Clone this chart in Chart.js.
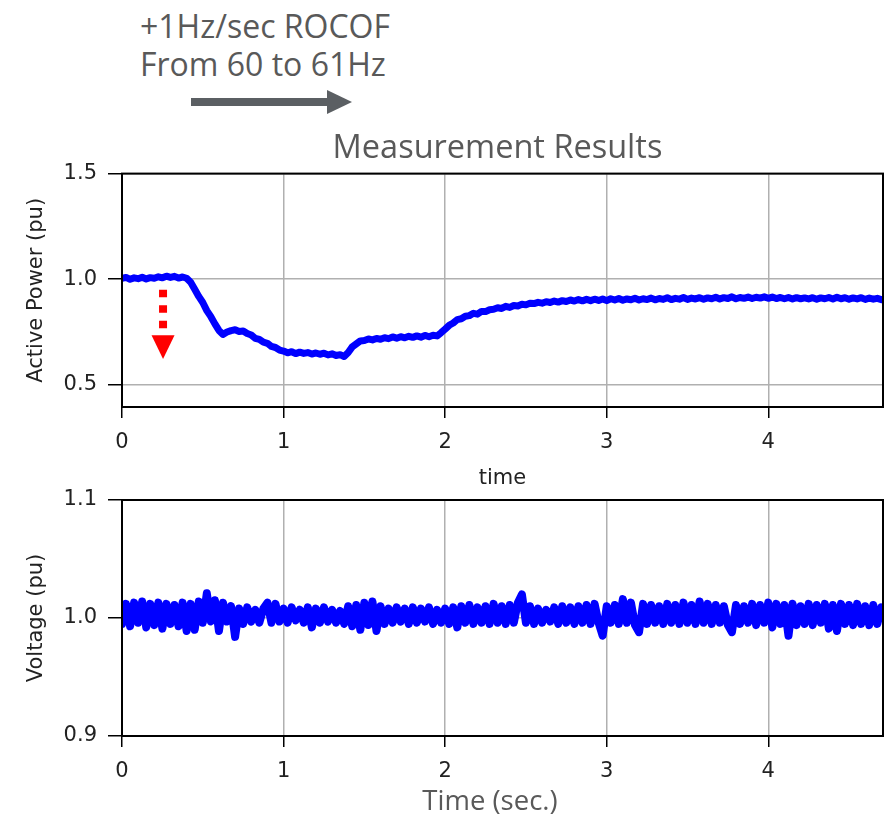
<!DOCTYPE html>
<html>
<head>
<meta charset="utf-8">
<title>Measurement Results</title>
<script src="https://cdn.jsdelivr.net/npm/chart.js@4.4.1/dist/chart.umd.min.js"></script>
<style>
    html, body { margin: 0; padding: 0; background: #fff; }
    #page { position: relative; width: 890px; height: 820px; overflow: hidden; font-family: "Open Sans", sans-serif; color: #595959; }
    .chart-box { position: absolute; left: 0; width: 890px; }
    #powerBox { top: 150px; height: 340px; }
    #voltageBox { top: 470px; height: 350px; }
    #header { position: absolute; left: 140px; top: 7px; font-size: 32px; line-height: 38px; white-space: nowrap; }
    #plotTitle { position: absolute; left: 497.5px; top: 130px; font-size: 32.5px; line-height: 1; transform: translateX(-50%); white-space: nowrap; }
    #timeTitle { position: absolute; left: 490px; top: 786px; font-size: 27.5px; line-height: 1; transform: translateX(-50%); white-space: nowrap; }
    #shaft { position: absolute; left: 191px; top: 98px; width: 137px; height: 8px; background: #5b5f63; }
    #head { position: absolute; left: 327px; top: 90px; width: 0; height: 0; border-top: 12px solid transparent; border-bottom: 12px solid transparent; border-left: 25px solid #5b5f63; }
</style>
</head>
<body>
<div id="page">
    <div class="chart-box" id="powerBox"><canvas id="powerChart"></canvas></div>
    <div class="chart-box" id="voltageBox"><canvas id="voltageChart"></canvas></div>
    <div id="header">+1Hz/sec ROCOF<br>From 60 to 61Hz</div>
    <div id="shaft"></div>
    <div id="head"></div>
    <div id="plotTitle">Measurement Results</div>
    <div id="timeTitle">Time (sec.)</div>
</div>
<script>
// Sample times (sec.)
const time = [
    0, 0.025, 0.05, 0.075, 0.1, 0.125, 0.15, 0.175, 0.2, 0.225, 0.25, 0.275, 0.3, 0.325, 0.35, 0.375, 0.4, 0.425, 0.45, 0.475,
    0.5, 0.525, 0.55, 0.575, 0.6, 0.625, 0.65, 0.675, 0.7, 0.725, 0.75, 0.775, 0.8, 0.825, 0.85, 0.875, 0.9, 0.925, 0.95, 0.975,
    1, 1.025, 1.05, 1.075, 1.1, 1.125, 1.15, 1.175, 1.2, 1.225, 1.25, 1.275, 1.3, 1.325, 1.35, 1.375, 1.4, 1.425, 1.45, 1.475,
    1.5, 1.525, 1.55, 1.575, 1.6, 1.625, 1.65, 1.675, 1.7, 1.725, 1.75, 1.775, 1.8, 1.825, 1.85, 1.875, 1.9, 1.925, 1.95, 1.975,
    2, 2.025, 2.05, 2.075, 2.1, 2.125, 2.15, 2.175, 2.2, 2.225, 2.25, 2.275, 2.3, 2.325, 2.35, 2.375, 2.4, 2.425, 2.45, 2.475,
    2.5, 2.525, 2.55, 2.575, 2.6, 2.625, 2.65, 2.675, 2.7, 2.725, 2.75, 2.775, 2.8, 2.825, 2.85, 2.875, 2.9, 2.925, 2.95, 2.975,
    3, 3.025, 3.05, 3.075, 3.1, 3.125, 3.15, 3.175, 3.2, 3.225, 3.25, 3.275, 3.3, 3.325, 3.35, 3.375, 3.4, 3.425, 3.45, 3.475,
    3.5, 3.525, 3.55, 3.575, 3.6, 3.625, 3.65, 3.675, 3.7, 3.725, 3.75, 3.775, 3.8, 3.825, 3.85, 3.875, 3.9, 3.925, 3.95, 3.975,
    4, 4.025, 4.05, 4.075, 4.1, 4.125, 4.15, 4.175, 4.2, 4.225, 4.25, 4.275, 4.3, 4.325, 4.35, 4.375, 4.4, 4.425, 4.45, 4.475,
    4.5, 4.525, 4.55, 4.575, 4.6, 4.625, 4.65, 4.675, 4.7
];

// Active power (pu)
const activePower = [
    1.003, 1.008, 0.999, 1.006, 1.002, 1.009, 1.001, 1.007, 1.004, 1.011, 1.006, 1.014, 1.008, 1.013, 1.005, 1.010, 1.004, 0.985, 0.952, 0.918,
    0.889, 0.851, 0.822, 0.788, 0.757, 0.738, 0.749, 0.756, 0.760, 0.752, 0.754, 0.742, 0.735, 0.719, 0.714, 0.701, 0.696, 0.681, 0.676, 0.664,
    0.659, 0.651, 0.656, 0.647, 0.654, 0.648, 0.652, 0.645, 0.650, 0.644, 0.649, 0.641, 0.646, 0.638, 0.642, 0.633, 0.652, 0.679, 0.693, 0.707,
    0.709, 0.716, 0.712, 0.719, 0.715, 0.722, 0.718, 0.726, 0.720, 0.727, 0.722, 0.729, 0.724, 0.731, 0.725, 0.733, 0.727, 0.734, 0.731, 0.746,
    0.763, 0.781, 0.792, 0.808, 0.812, 0.824, 0.827, 0.838, 0.834, 0.847, 0.846, 0.855, 0.857, 0.864, 0.861, 0.871, 0.866, 0.875, 0.873, 0.881,
    0.878, 0.886, 0.884, 0.890, 0.886, 0.893, 0.889, 0.896, 0.891, 0.898, 0.894, 0.901, 0.896, 0.903, 0.897, 0.904, 0.898, 0.905, 0.899, 0.906,
    0.898, 0.907, 0.901, 0.908, 0.900, 0.906, 0.902, 0.909, 0.901, 0.907, 0.903, 0.910, 0.902, 0.908, 0.904, 0.912, 0.903, 0.909, 0.905, 0.913,
    0.904, 0.910, 0.906, 0.912, 0.905, 0.911, 0.907, 0.914, 0.906, 0.912, 0.908, 0.916, 0.907, 0.913, 0.909, 0.915, 0.908, 0.914, 0.910, 0.916,
    0.909, 0.915, 0.908, 0.913, 0.907, 0.913, 0.906, 0.912, 0.907, 0.911, 0.906, 0.912, 0.905, 0.911, 0.907, 0.913, 0.906, 0.914, 0.907, 0.912,
    0.905, 0.911, 0.906, 0.912, 0.904, 0.910, 0.905, 0.909, 0.903
];

// Voltage (pu)
const voltage = [
    0.995, 1.012, 0.993, 1.013, 0.996, 1.014, 0.992, 1.012, 0.994, 1.013, 0.991, 1.012, 0.995, 1.011, 0.993, 1.013, 0.989, 1.012, 0.990, 1.014,
    0.996, 1.021, 0.997, 1.015, 0.989, 1.013, 0.997, 1.010, 0.984, 1.008, 0.995, 1.009, 0.997, 1.007, 0.996, 1.008, 1.013, 0.996, 1.012, 0.997,
    1.008, 0.996, 1.009, 0.998, 1.007, 0.996, 1.009, 0.992, 1.008, 0.996, 1.009, 0.997, 1.007, 0.996, 1.006, 0.995, 1.010, 0.993, 1.011, 0.990,
    1.013, 0.994, 1.014, 0.989, 1.010, 0.995, 1.008, 0.996, 1.009, 0.997, 1.008, 0.995, 1.009, 0.996, 1.008, 0.997, 1.009, 0.995, 1.007, 0.996,
    1.008, 0.995, 1.009, 0.992, 1.010, 0.996, 1.011, 0.995, 1.009, 0.996, 1.010, 0.995, 1.012, 0.996, 1.010, 0.995, 1.011, 0.996, 1.013, 1.020,
    0.996, 1.010, 0.995, 1.008, 0.996, 1.007, 0.997, 1.009, 0.995, 1.010, 0.996, 1.009, 0.995, 1.010, 0.996, 1.011, 0.995, 1.012, 0.996, 0.985,
    1.010, 0.996, 1.011, 0.995, 1.016, 0.996, 1.013, 0.994, 0.988, 1.012, 0.995, 1.011, 0.996, 1.010, 0.995, 1.012, 0.996, 1.011, 0.995, 1.013,
    0.996, 1.011, 0.995, 1.014, 0.996, 1.012, 0.995, 1.011, 0.996, 1.010, 0.994, 0.988, 1.011, 0.995, 1.010, 0.996, 1.012, 0.994, 1.011, 0.996,
    1.013, 0.992, 1.012, 0.995, 1.011, 0.985, 1.012, 0.994, 1.010, 0.995, 1.012, 0.994, 1.011, 0.996, 1.012, 0.991, 1.011, 0.989, 1.012, 0.995,
    1.011, 0.994, 1.012, 0.995, 1.010, 0.994, 1.011, 0.995, 1.009
];

// Axis ranges
const timeRange = [0, 4.71];
const powerRange = [0.394, 1.5];
const voltageRange = [0.9, 1.1];

// Red dotted "drop" arrow: time and levels (dash start, dash end, head top, head tip)
const dropArrowTime = 0.254;
const dropArrowLevels = [0.95, 0.767, 0.734, 0.622];

Chart.defaults.font.family = '"DejaVu Sans", sans-serif';
Chart.defaults.color = '#222';

const tickFont = { family: '"DejaVu Sans", sans-serif', size: 21 };
const titleFont = { family: '"DejaVu Sans", sans-serif', size: 21, lineHeight: 1 };

// Black box around the plot area
const framePlugin = {
    id: 'frame',
    afterDraw(chart) {
        const { ctx, chartArea: a } = chart;
        ctx.save();
        ctx.strokeStyle = '#000';
        ctx.lineWidth = 2;
        ctx.strokeRect(a.left, a.top, a.right - a.left, a.bottom - a.top);
        ctx.restore();
    }
};

const dropArrowPlugin = {
    id: 'dropArrow',
    afterDatasetsDraw(chart) {
        const { ctx, scales } = chart;
        const x = scales.x.getPixelForValue(dropArrowTime);
        const y = dropArrowLevels.map(v => scales.y.getPixelForValue(v));
        ctx.save();
        ctx.strokeStyle = '#ff0000';
        ctx.fillStyle = '#ff0000';
        ctx.lineWidth = 8;
        ctx.setLineDash([7.5, 8]);
        ctx.beginPath();
        ctx.moveTo(x, y[0]);
        ctx.lineTo(x, y[1]);
        ctx.stroke();
        ctx.beginPath();
        ctx.moveTo(x - 11.5, y[2]);
        ctx.lineTo(x + 11.5, y[2]);
        ctx.lineTo(x, y[3]);
        ctx.closePath();
        ctx.fill();
        ctx.restore();
    }
};

function makeChart(canvasId, values, yRange, yStep, yTitle, xTitle, lineWidth, padTop, xAxisHeight, extraPlugins) {
    const ctx = document.getElementById(canvasId).getContext('2d');
    return new Chart(ctx, {
        type: 'line',
        data: {
            datasets: [{
                data: time.map((t, i) => ({ x: t, y: values[i] })),
                borderColor: '#0000ff',
                borderWidth: lineWidth,
                borderJoinStyle: 'round',
                borderCapStyle: 'round',
                pointRadius: 0,
                tension: 0,
                fill: false
            }]
        },
        options: {
            responsive: true,
            maintainAspectRatio: false,
            animation: false,
            layout: { padding: { top: padTop, right: 7, bottom: 0, left: 0 } },
            plugins: {
                legend: { display: false },
                tooltip: { enabled: false }
            },
            scales: {
                x: {
                    type: 'linear',
                    min: timeRange[0],
                    max: timeRange[1],
                    afterFit: s => { s.height = xAxisHeight; },
                    ticks: {
                        stepSize: 1,
                        includeBounds: false,
                        font: tickFont,
                        color: '#222',
                        padding: 12,
                        maxRotation: 0
                    },
                    grid: { color: '#b0b0b0', lineWidth: 1.5, tickColor: '#000', tickWidth: 1.5, tickLength: 11 },
                    border: { color: '#000', width: 2 },
                    title: {
                        display: !!xTitle,
                        text: xTitle,
                        font: titleFont,
                        color: '#222',
                        padding: { top: 0, bottom: 0.5 }
                    }
                },
                y: {
                    min: yRange[0],
                    max: yRange[1],
                    afterFit: s => { s.width = 122; },
                    ticks: {
                        stepSize: yStep,
                        includeBounds: false,
                        font: tickFont,
                        color: '#222',
                        padding: 11,
                        callback: v => v.toFixed(1)
                    },
                    grid: { color: '#b0b0b0', lineWidth: 1.5, tickColor: '#000', tickWidth: 1.5, tickLength: 14 },
                    border: { color: '#000', width: 2 },
                    title: {
                        display: true,
                        text: yTitle,
                        font: titleFont,
                        color: '#222',
                        padding: { top: 26, bottom: 0 }
                    }
                }
            }
        },
        plugins: [framePlugin].concat(extraPlugins)
    });
}

makeChart('powerChart', activePower, powerRange, 0.5, 'Active Power (pu)', 'time', 7, 19, 83, [dropArrowPlugin]);
makeChart('voltageChart', voltage, voltageRange, 0.1, 'Voltage (pu)', '', 8, 30, 84, []);
</script>
</body>
</html>
